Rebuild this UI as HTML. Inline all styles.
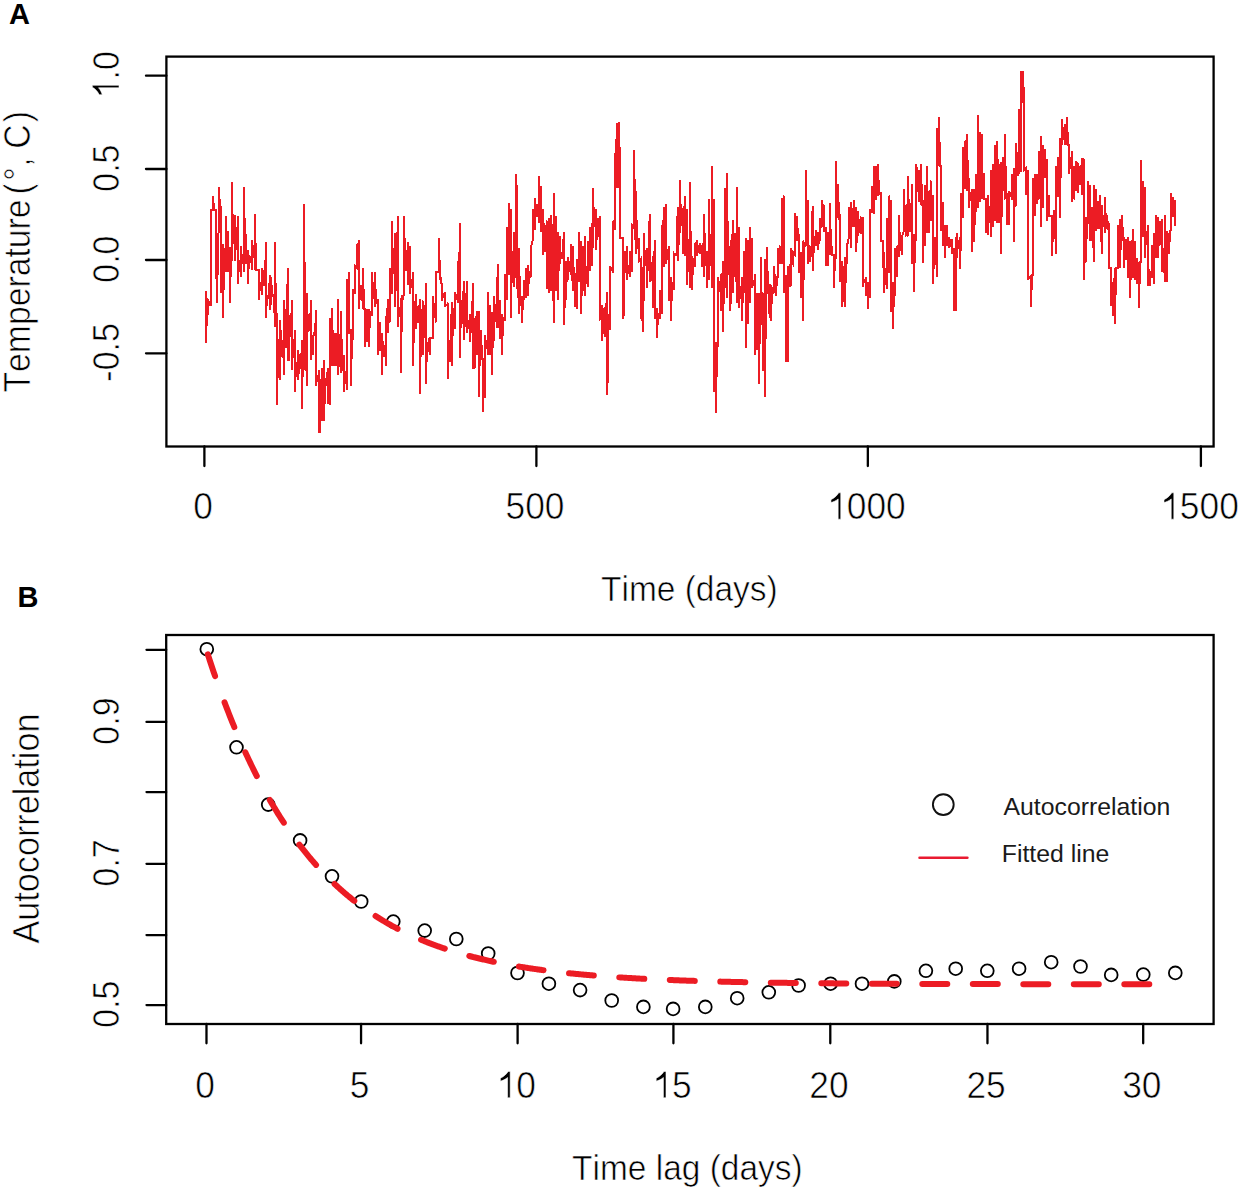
<!DOCTYPE html><html><head><meta charset="utf-8"><style>html,body{margin:0;padding:0;background:#fff;}svg{display:block;} text{font-kerning:none;}</style></head><body>
<svg width="1238" height="1187" viewBox="0 0 1238 1187" style="font-family:'Liberation Sans', sans-serif">
<rect width="1238" height="1187" fill="#fff"/>
<text x="9" y="24" font-size="29" font-weight="bold" fill="#000">A</text>
<text x="17.5" y="607" font-size="29" font-weight="bold" fill="#000">B</text>
<g stroke="#000" stroke-width="2.3" fill="none" stroke-linecap="round">
<rect x="166.4" y="56.6" width="1047.2" height="389.9"/>
<line x1="146" y1="75.7" x2="166.4" y2="75.7"/>
<line x1="146" y1="169.0" x2="166.4" y2="169.0"/>
<line x1="146" y1="260.0" x2="166.4" y2="260.0"/>
<line x1="146" y1="353.3" x2="166.4" y2="353.3"/>
<line x1="204.39" y1="446.5" x2="204.39" y2="466.0"/>
<line x1="536.39" y1="446.5" x2="536.39" y2="466.0"/>
<line x1="867.84" y1="446.5" x2="867.84" y2="466.0"/>
<line x1="1200.9" y1="446.5" x2="1200.9" y2="466.0"/>
</g>
<g fill="#000" stroke="#fff" stroke-width="0.6">
<text transform="translate(202.99 519.20) scale(1.01 1.05)" font-size="35" text-anchor="middle">0</text>
<text transform="translate(534.99 519.20) scale(1.01 1.05)" font-size="35" text-anchor="middle">500</text>
<g transform="translate(866.44 519.20) scale(1.01 1.05)"><text font-size="35" text-anchor="middle"> 000</text><path transform="translate(-38.931 0) scale(0.017090 -0.017090)" d="M790,0 L640,0 L640,1130 Q560,1060 430,1000 Q320,950 222,925 L222,1090 Q380,1160 500,1270 Q620,1380 670,1472 L790,1472 Z" vector-effect="non-scaling-stroke"/></g>
<g transform="translate(1199.50 519.20) scale(1.01 1.05)"><text font-size="35" text-anchor="middle"> 500</text><path transform="translate(-38.931 0) scale(0.017090 -0.017090)" d="M790,0 L640,0 L640,1130 Q560,1060 430,1000 Q320,950 222,925 L222,1090 Q380,1160 500,1270 Q620,1380 670,1472 L790,1472 Z" vector-effect="non-scaling-stroke"/></g>
<g transform="translate(119.00 74.80) rotate(-90) scale(0.97 1.06)"><text font-size="35" text-anchor="middle"> .0</text><path transform="translate(-24.327 0) scale(0.017090 -0.017090)" d="M790,0 L640,0 L640,1130 Q560,1060 430,1000 Q320,950 222,925 L222,1090 Q380,1160 500,1270 Q620,1380 670,1472 L790,1472 Z" vector-effect="non-scaling-stroke"/></g>
<text transform="translate(119.00 168.10) rotate(-90) scale(0.97 1.06)" font-size="35" text-anchor="middle">0.5</text>
<text transform="translate(119.00 259.10) rotate(-90) scale(0.97 1.06)" font-size="35" text-anchor="middle">0.0</text>
<text transform="translate(119.00 352.40) rotate(-90) scale(0.97 1.06)" font-size="35" text-anchor="middle">-0.5</text>
<text transform="translate(689.35 600.80) scale(0.985 1.04)" font-size="34" text-anchor="middle">Time (days)</text>
<text transform="translate(29.90 392.60) rotate(-90) scale(0.993 1.07)" font-size="34" text-anchor="start">Temperature<tspan dx="5">(</tspan><tspan dx="2.4">°</tspan><tspan dx="0.55">,</tspan><tspan dx="-0.65"> C</tspan><tspan dx="2.1">)</tspan></text>
</g>
<path d="M206,290.80 L206,343.10 L207,310.17 L208,315.10 L208,300.40 L209,301.81 L209,304.42 L210,302.72 L211,306.30 L211,210.40 L212,210.40 L213,210.40 L213,195.60 L214,210.40 L214,210.40 L215,210.40 L215,210.40 L216,210.40 L216,278.20 L217,278.00 L217,303.30 L218,248.38 L219,217.80 L219,186.80 L220,210.05 L221,206.00 L221,293.00 L222,268.73 L222,265.97 L223,244.30 L223,318.00 L224,263.94 L225,247.72 L226,272.30 L226,216.30 L227,248.16 L228,231.00 L228,272.30 L229,260.89 L229,270.39 L230,247.30 L230,303.30 L231,252.90 L232,260.50 L232,182.40 L233,243.56 L234,232.95 L234,222.59 L235,214.80 L235,260.50 L236,239.36 L236,227.55 L237,237.76 L238,216.30 L238,284.10 L239,260.69 L240,261.52 L241,276.80 L241,245.80 L242,262.20 L242,263.77 L243,254.71 L244,272.30 L244,186.80 L245,245.79 L246,234.00 L246,263.50 L247,254.00 L247,259.28 L248,250.20 L248,284.10 L249,255.15 L250,260.31 L250,261.18 L251,255.71 L252,270.00 L252,240.00 L253,252.20 L253,256.41 L254,245.11 L255,270.00 L255,214.00 L256,270.00 L256,270.00 L257,270.00 L258,270.00 L258,270.00 L259,270.00 L259,300.00 L260,281.95 L261,286.38 L262,295.00 L262,268.00 L263,272.69 L264,286.27 L265,278.04 L266,242.00 L266,318.00 L267,295.62 L268,298.63 L269,291.84 L270,275.00 L270,310.00 L271,299.89 L271,276.74 L272,292.73 L273,294.83 L274,298.54 L275,327.00 L275,242.00 L276,321.87 L277,313.00 L277,404.50 L278,354.60 L278,339.49 L279,371.04 L280,380.00 L280,320.00 L281,339.93 L281,349.09 L282,356.87 L283,347.65 L283,339.64 L284,375.00 L284,300.00 L285,317.59 L286,348.29 L287,300.41 L288,268.00 L288,360.00 L289,360.00 L290,314.99 L290,337.07 L291,323.93 L291,325.82 L292,300.00 L292,370.00 L293,346.76 L294,348.59 L295,330.00 L295,392.00 L296,363.08 L297,365.04 L298,380.00 L298,350.00 L299,358.44 L299,373.74 L300,364.68 L300,368.07 L301,363.63 L301,367.55 L302,340.00 L302,409.00 L303,348.04 L303,360.00 L304,370.00 L304,204.00 L305,315.24 L305,317.63 L306,356.56 L307,386.00 L307,293.00 L308,331.92 L309,329.98 L310,327.16 L311,300.00 L311,360.00 L312,337.32 L312,342.00 L313,354.72 L313,337.09 L314,333.74 L315,336.09 L316,310.00 L316,386.00 L317,378.56 L318,380.65 L319,370.00 L319,432.00 L320,432.05 L320,379.45 L321,390.50 L321,405.59 L322,421.10 L322,368.49 L323,399.98 L323,396.49 L324,421.10 L324,359.73 L325,403.56 L325,392.20 L326,380.56 L327,375.12 L328,368.49 L328,403.56 L329,382.81 L330,404.66 L330,318.08 L331,351.47 L332,366.30 L332,308.22 L333,350.14 L334,366.30 L334,333.42 L335,357.16 L335,350.97 L336,366.30 L336,333.42 L337,342.86 L338,375.07 L338,299.45 L339,366.99 L340,346.77 L341,372.88 L341,311.51 L342,364.03 L343,370.66 L343,360.71 L344,355.34 L344,391.51 L345,376.39 L346,371.20 L347,390.41 L347,278.63 L348,304.56 L348,293.20 L349,272.05 L349,333.42 L350,331.05 L350,330.94 L351,329.04 L351,386.03 L352,333.88 L353,340.00 L353,289.59 L354,291.50 L355,293.97 L355,265.48 L356,266.28 L356,266.34 L357,267.67 L357,243.56 L358,258.12 L358,250.11 L359,240.27 L359,309.32 L360,291.49 L361,285.16 L362,292.00 L363,309.32 L363,267.67 L364,309.32 L364,309.32 L365,309.32 L365,346.58 L366,318.35 L366,326.38 L367,342.19 L367,309.32 L368,327.09 L368,315.20 L369,309.32 L369,346.58 L370,311.81 L371,313.42 L372,315.89 L372,272.05 L373,291.87 L374,289.17 L374,291.31 L375,307.12 L375,272.05 L376,304.33 L376,302.57 L377,303.41 L378,299.45 L378,355.34 L379,335.41 L379,331.80 L380,322.47 L380,350.96 L381,336.02 L381,338.58 L382,333.42 L382,375.07 L383,340.91 L384,349.50 L384,355.77 L385,346.27 L386,366.30 L386,315.89 L387,325.83 L387,316.04 L388,299.45 L388,333.42 L389,307.74 L389,307.60 L390,322.47 L390,267.67 L391,280.61 L391,271.46 L392,293.97 L392,220.55 L393,273.79 L393,257.77 L394,269.25 L395,232.60 L395,307.12 L396,276.40 L397,259.80 L397,249.11 L398,216.16 L398,326.85 L399,307.61 L400,313.42 L400,317.06 L401,298.36 L401,372.88 L402,296.39 L402,295.48 L403,297.73 L404,293.97 L404,216.16 L405,258.77 L406,271.18 L407,257.84 L408,242.47 L408,285.21 L409,263.18 L410,245.75 L410,293.97 L411,283.01 L412,287.19 L413,272.05 L413,366.30 L414,321.58 L415,305.84 L415,308.94 L416,293.97 L416,329.04 L417,305.95 L417,314.04 L418,322.48 L419,310.45 L420,299.45 L420,393.70 L421,323.73 L421,325.50 L422,317.87 L423,300.55 L423,355.34 L424,322.24 L424,338.24 L425,328.12 L426,283.01 L426,383.84 L427,341.89 L428,346.47 L428,348.28 L429,338.58 L429,347.49 L430,355.34 L430,337.81 L431,337.81 L432,337.81 L432,337.81 L433,337.81 L433,296.16 L434,309.71 L435,306.40 L435,313.97 L436,322.47 L436,272.05 L437,272.05 L438,272.05 L439,272.05 L439,238.08 L440,279.64 L441,277.10 L442,289.59 L442,300.55 L443,295.30 L444,297.93 L444,294.87 L445,291.78 L445,307.12 L446,304.97 L447,305.55 L448,302.74 L448,379.45 L449,340.34 L450,361.52 L451,327.70 L452,301.64 L452,366.30 L453,307.92 L454,318.18 L455,329.04 L455,291.78 L456,295.79 L457,297.52 L458,302.74 L458,261.10 L459,281.91 L460,222.74 L460,357.53 L461,299.72 L461,308.22 L462,323.89 L463,301.51 L464,280.82 L464,340.00 L465,315.23 L466,304.41 L466,305.08 L467,280.82 L467,333.42 L468,324.31 L469,320.15 L469,326.49 L470,313.70 L470,342.19 L471,324.80 L471,325.24 L472,318.83 L473,283.01 L473,368.49 L474,352.88 L474,347.23 L475,368.48 L475,318.41 L476,329.47 L476,320.03 L477,311.51 L477,355.34 L478,322.94 L479,311.51 L479,396.99 L480,337.61 L480,350.81 L481,359.38 L481,329.79 L482,359.38 L483,359.38 L483,411.72 L484,379.66 L484,377.64 L485,398.07 L485,335.48 L486,344.37 L487,346.35 L487,343.80 L488,354.82 L488,292.24 L489,323.67 L490,304.76 L490,354.82 L491,336.86 L492,311.58 L492,375.31 L493,323.39 L494,341.17 L494,295.65 L495,312.71 L495,310.35 L496,315.32 L497,327.51 L497,291.10 L498,263.79 L498,327.51 L499,307.83 L499,307.70 L500,300.20 L500,338.89 L501,322.99 L502,313.86 L502,354.82 L503,319.15 L504,317.76 L504,316.69 L505,320.69 L505,274.03 L506,291.75 L507,300.20 L507,227.38 L508,260.00 L509,275.17 L509,203.48 L510,242.67 L511,209.17 L511,318.41 L512,250.69 L512,257.23 L513,279.30 L513,259.81 L514,286.55 L514,231.93 L515,270.78 L516,277.45 L516,173.90 L517,195.52 L517,288.83 L518,281.52 L519,313.86 L519,247.86 L520,303.24 L521,304.84 L521,303.91 L522,295.65 L522,322.96 L523,298.06 L524,300.20 L524,279.72 L525,285.60 L526,297.93 L526,268.34 L527,273.68 L528,264.93 L528,295.65 L529,272.75 L530,271.90 L530,272.66 L531,277.45 L531,247.86 L532,242.87 L533,238.76 L533,209.17 L534,223.52 L534,221.03 L535,229.65 L535,197.79 L536,209.85 L537,216.65 L537,209.64 L538,204.39 L539,222.83 L539,176.17 L540,212.71 L540,206.60 L541,186.41 L541,231.93 L542,218.82 L543,209.17 L543,254.69 L544,223.04 L544,239.21 L545,228.26 L545,252.47 L546,230.26 L546,229.42 L547,220.55 L547,288.83 L548,242.56 L549,218.27 L549,293.38 L550,263.25 L551,291.10 L551,214.86 L552,233.04 L553,278.49 L554,322.96 L554,193.24 L555,241.06 L556,216.00 L556,291.10 L557,271.09 L557,264.49 L558,231.93 L558,300.20 L559,244.31 L560,236.48 L560,263.79 L561,253.24 L562,258.55 L563,245.94 L564,231.93 L564,325.24 L565,291.67 L565,269.40 L566,261.52 L566,300.20 L567,265.90 L568,256.96 L568,279.72 L569,263.96 L569,268.28 L570,261.53 L571,275.17 L571,244.45 L572,271.47 L573,291.10 L573,245.58 L574,285.61 L575,272.89 L575,307.03 L576,296.68 L577,309.31 L577,259.24 L578,274.04 L578,270.22 L579,282.00 L579,231.93 L580,265.33 L580,252.59 L581,241.03 L581,313.86 L582,279.43 L583,291.10 L583,245.58 L584,263.25 L584,261.35 L585,236.48 L585,295.65 L586,272.54 L586,275.73 L587,266.00 L588,286.55 L588,241.03 L589,257.24 L589,251.50 L590,270.62 L590,227.38 L591,254.81 L592,266.07 L592,222.83 L593,247.86 L593,187.55 L594,224.41 L595,227.23 L596,209.17 L596,250.14 L597,231.23 L597,233.89 L598,236.48 L598,218.27 L599,220.53 L600,216.00 L600,318.41 L601,316.72 L602,304.76 L602,341.17 L603,327.03 L604,310.16 L605,307.03 L605,336.62 L606,314.45 L607,292.24 L607,394.65 L608,373.03 L608,313.86 L609,322.81 L610,329.79 L610,266.07 L611,269.02 L612,269.10 L613,272.89 L613,220.55 L614,226.93 L615,230.07 L615,154.37 L616,154.37 L617,123.05 L617,188.31 L618,156.91 L619,188.31 L619,121.75 L620,170.04 L620,237.90 L621,237.90 L621,237.90 L622,237.90 L623,237.90 L623,318.82 L624,313.60 L624,250.96 L625,262.17 L625,272.55 L626,256.23 L627,245.73 L627,279.67 L628,267.69 L629,266.02 L630,277.06 L630,250.96 L631,269.17 L632,271.84 L632,224.85 L633,226.00 L634,227.46 L634,150.46 L635,205.44 L635,225.11 L636,253.57 L636,190.92 L637,245.77 L638,246.14 L638,248.52 L639,237.90 L639,261.40 L640,260.47 L640,260.47 L641,258.79 L641,318.82 L642,310.64 L643,331.87 L643,266.62 L644,300.55 L644,232.68 L645,265.53 L646,261.30 L647,248.35 L647,287.50 L648,255.16 L649,264.01 L649,227.46 L650,214.41 L650,282.28 L651,278.85 L652,267.51 L653,256.18 L653,308.38 L654,262.61 L655,240.51 L655,318.82 L656,315.59 L656,311.70 L657,308.38 L657,338.40 L658,312.87 L658,314.98 L659,314.44 L660,318.82 L660,290.11 L661,302.00 L662,313.60 L662,224.85 L663,239.65 L663,233.74 L664,206.58 L664,266.62 L665,216.68 L665,228.97 L666,203.97 L666,264.01 L667,255.51 L667,252.68 L668,252.94 L669,245.73 L669,300.55 L670,286.15 L671,277.06 L671,321.43 L672,282.34 L672,286.24 L673,282.96 L674,290.11 L674,253.57 L675,254.97 L676,253.78 L677,256.18 L677,224.85 L678,206.58 L678,261.40 L679,229.12 L680,232.68 L680,180.48 L681,226.40 L682,210.80 L683,209.19 L683,253.57 L684,227.67 L685,256.18 L685,196.14 L686,240.06 L687,209.19 L687,284.89 L688,239.09 L688,260.18 L689,256.78 L690,287.50 L690,181.78 L691,275.18 L691,264.94 L692,256.18 L692,290.11 L693,261.93 L694,259.68 L695,266.62 L695,243.12 L696,251.84 L696,243.12 L697,240.51 L697,256.18 L698,250.50 L699,250.39 L699,247.70 L700,243.12 L700,253.57 L701,248.51 L701,247.50 L702,245.73 L702,266.62 L703,253.87 L703,253.88 L704,277.06 L704,214.41 L705,250.96 L705,253.57 L706,265.51 L706,260.99 L707,250.96 L707,287.50 L708,252.06 L708,276.92 L709,279.67 L709,198.75 L710,266.45 L711,243.64 L712,287.50 L712,166.12 L713,245.47 L714,198.75 L714,391.91 L715,369.70 L715,367.14 L716,342.32 L716,412.79 L717,344.12 L718,344.93 L718,277.06 L719,291.39 L720,288.65 L720,287.95 L721,274.45 L721,310.99 L722,285.54 L723,261.40 L723,331.87 L724,279.27 L725,287.50 L725,188.31 L726,237.40 L727,297.94 L727,172.65 L728,265.80 L728,259.82 L729,274.64 L729,260.28 L730,245.73 L730,310.99 L731,297.94 L731,240.51 L732,248.43 L733,219.63 L733,292.72 L734,249.28 L734,250.17 L735,232.68 L735,277.06 L736,263.32 L736,259.89 L737,303.16 L737,187.00 L738,267.29 L739,227.46 L739,308.38 L740,290.35 L741,295.52 L742,277.06 L742,321.43 L743,285.88 L743,282.97 L744,292.72 L744,250.96 L745,273.43 L746,237.90 L746,347.54 L747,284.53 L748,324.04 L748,240.51 L749,264.82 L750,227.46 L750,303.16 L751,264.23 L751,254.39 L752,237.90 L752,287.50 L753,282.96 L754,285.30 L755,274.45 L755,355.37 L756,300.75 L756,331.99 L757,350.15 L757,292.72 L758,312.68 L759,292.72 L759,384.08 L760,307.93 L761,324.04 L761,257.48 L762,324.04 L763,324.04 L763,371.03 L764,345.02 L764,327.32 L765,258.79 L765,397.13 L766,285.83 L767,292.72 L767,247.04 L768,292.72 L769,292.72 L769,308.38 L770,318.41 L770,284.27 L771,286.55 L771,320.69 L772,288.70 L772,287.87 L773,289.83 L774,293.38 L774,266.07 L775,281.53 L776,277.45 L776,295.65 L777,277.45 L778,277.45 L778,247.86 L779,261.49 L779,253.61 L780,245.58 L780,263.79 L781,248.19 L782,263.79 L782,197.79 L783,229.00 L784,195.52 L784,293.38 L785,283.90 L786,275.17 L786,361.65 L787,287.68 L787,333.70 L788,361.65 L788,266.07 L789,276.71 L789,271.99 L790,263.79 L790,286.55 L791,284.27 L791,247.86 L792,262.03 L793,263.79 L793,252.41 L794,253.53 L795,254.69 L795,212.59 L796,230.06 L797,241.03 L797,216.00 L798,238.57 L798,237.91 L799,236.48 L799,272.89 L800,259.92 L801,252.41 L801,297.93 L802,274.10 L803,241.03 L803,320.69 L804,242.73 L805,244.24 L805,243.06 L806,245.58 L806,170.48 L807,230.20 L807,224.82 L808,200.07 L808,263.79 L809,254.08 L809,249.43 L810,245.58 L810,261.52 L811,252.46 L812,254.69 L812,216.00 L813,205.76 L813,270.62 L814,235.95 L815,238.37 L816,245.58 L816,229.65 L817,238.01 L817,238.99 L818,231.93 L818,250.14 L819,238.83 L819,236.28 L820,241.03 L820,218.27 L821,223.91 L822,227.38 L822,200.07 L823,221.24 L823,209.11 L824,204.62 L824,231.93 L825,227.68 L825,229.21 L826,227.38 L826,266.07 L827,255.00 L827,257.56 L828,266.07 L828,231.93 L829,244.61 L829,243.60 L830,254.69 L830,203.48 L831,252.97 L831,249.42 L832,245.58 L832,254.69 L833,254.69 L834,254.69 L834,287.69 L835,256.93 L836,259.24 L836,161.38 L837,205.08 L838,218.27 L838,184.14 L839,217.37 L840,216.00 L840,282.00 L841,277.67 L842,261.52 L842,307.03 L843,298.02 L843,296.71 L844,275.13 L845,256.96 L845,307.03 L846,260.69 L847,263.79 L847,245.58 L848,241.48 L849,236.48 L849,206.90 L850,224.10 L851,202.34 L851,247.86 L852,208.08 L852,213.79 L853,214.12 L853,213.79 L854,227.38 L854,200.07 L855,222.33 L855,220.55 L856,206.90 L856,252.41 L857,235.11 L857,225.70 L858,236.48 L858,211.45 L859,225.12 L860,232.95 L860,226.85 L861,234.21 L861,218.27 L862,219.34 L863,217.14 L863,286.55 L864,280.05 L865,283.09 L865,280.40 L866,277.45 L866,295.65 L867,291.85 L867,283.90 L868,282.00 L868,309.31 L869,284.91 L870,297.93 L870,210.31 L871,211.08 L871,210.57 L872,211.45 L872,186.41 L873,197.30 L874,213.72 L874,165.93 L875,182.05 L876,165.93 L876,200.07 L877,187.87 L878,195.52 L878,163.65 L879,193.74 L880,193.75 L881,193.24 L881,241.03 L882,241.03 L883,241.03 L883,268.34 L884,252.41 L884,293.38 L885,278.03 L886,267.62 L887,288.83 L887,218.27 L888,244.02 L888,260.20 L889,272.89 L889,195.52 L890,226.00 L891,200.07 L891,311.58 L892,297.13 L893,282.00 L893,328.65 L894,286.52 L895,295.65 L895,247.86 L896,253.75 L896,263.18 L897,277.45 L897,245.58 L898,252.93 L899,256.96 L899,214.86 L900,248.44 L900,245.44 L901,245.86 L902,254.69 L902,236.48 L903,233.75 L903,234.03 L904,229.65 L904,188.69 L905,221.51 L906,236.48 L906,204.62 L907,207.14 L907,215.57 L908,236.48 L908,176.17 L909,219.68 L910,211.45 L910,231.93 L911,224.87 L911,221.80 L912,184.14 L912,263.79 L913,243.11 L913,254.39 L914,234.21 L914,292.24 L915,236.53 L916,241.03 L916,163.65 L917,170.48 L918,191.76 L918,178.85 L919,170.48 L919,202.34 L920,180.91 L920,184.79 L921,204.62 L921,163.65 L922,202.96 L922,203.77 L923,202.34 L923,262.65 L924,215.39 L925,245.79 L925,184.74 L926,218.19 L926,215.24 L927,233.16 L927,165.79 L928,231.14 L928,201.77 L929,191.05 L929,233.16 L930,199.83 L931,180.53 L931,220.53 L932,209.26 L933,195.26 L933,283.68 L934,256.28 L935,264.74 L935,237.37 L936,246.48 L937,277.37 L937,127.89 L938,163.48 L939,165.79 L939,117.37 L940,165.79 L941,165.79 L941,231.05 L942,215.06 L942,214.20 L943,201.58 L943,245.79 L944,225.08 L944,234.94 L945,224.74 L945,258.42 L946,229.88 L947,224.74 L947,245.79 L948,242.04 L949,237.37 L949,247.89 L950,245.10 L950,243.64 L951,239.47 L951,241.81 L952,239.47 L952,254.21 L953,249.49 L953,250.68 L954,247.89 L954,311.05 L955,268.15 L955,288.42 L956,311.05 L956,241.58 L957,233.16 L957,258.42 L958,239.78 L958,242.24 L959,247.76 L960,237.37 L960,268.95 L961,233.16 L961,193.16 L962,207.38 L963,218.42 L963,146.84 L964,188.95 L964,166.97 L965,188.95 L965,140.53 L966,169.01 L967,191.05 L967,134.21 L968,183.11 L969,178.42 L969,207.89 L970,191.88 L971,200.89 L972,188.95 L972,252.11 L973,209.18 L974,188.95 L974,241.58 L975,209.75 L976,212.11 L976,174.21 L977,194.19 L978,207.89 L978,115.26 L979,186.41 L979,147.90 L980,132.11 L980,201.58 L981,161.03 L982,134.21 L982,199.47 L983,174.59 L984,174.21 L984,199.47 L985,199.47 L985,199.47 L986,199.47 L986,233.16 L987,220.27 L987,208.13 L988,195.26 L988,235.26 L989,208.27 L990,207.34 L990,208.41 L991,237.37 L991,170.00 L992,207.70 L993,226.84 L993,163.68 L994,185.86 L995,220.53 L995,144.74 L996,185.61 L997,222.63 L997,140.53 L998,175.42 L999,163.68 L999,222.63 L1000,174.66 L1001,161.58 L1001,254.21 L1002,184.34 L1002,187.39 L1003,191.05 L1003,157.37 L1004,180.15 L1005,199.47 L1005,134.21 L1006,195.71 L1007,193.16 L1007,224.74 L1008,208.96 L1009,224.74 L1009,191.05 L1010,192.89 L1010,195.52 L1011,193.93 L1012,199.47 L1012,174.21 L1013,194.83 L1014,167.89 L1014,241.58 L1015,176.05 L1016,205.79 L1016,142.63 L1017,161.00 L1017,163.18 L1018,155.26 L1018,176.32 L1019,172.11 L1019,108.95 L1020,157.82 L1021,172.11 L1021,70.63 L1022,98.12 L1023,102.63 L1023,70.63 L1024,102.63 L1024,170.00 L1025,168.80 L1026,167.89 L1026,195.26 L1027,181.42 L1028,170.00 L1028,279.47 L1029,277.26 L1029,277.75 L1030,277.16 L1031,275.26 L1031,306.84 L1032,275.26 L1032,275.26 L1033,275.26 L1033,178.42 L1034,194.61 L1034,197.65 L1035,216.32 L1035,174.21 L1036,187.64 L1037,174.21 L1037,203.68 L1038,182.26 L1039,199.47 L1039,151.05 L1040,166.96 L1041,136.32 L1041,226.84 L1042,180.91 L1043,207.89 L1043,144.74 L1044,168.96 L1045,178.42 L1045,148.95 L1046,173.87 L1047,159.47 L1047,220.53 L1048,202.46 L1049,195.26 L1049,216.32 L1050,216.32 L1050,216.32 L1051,216.32 L1052,216.32 L1052,256.32 L1053,229.18 L1054,239.47 L1054,210.00 L1055,220.62 L1056,254.21 L1056,165.79 L1057,182.45 L1057,184.71 L1058,197.37 L1058,157.37 L1059,177.47 L1060,138.42 L1060,218.42 L1061,141.69 L1062,144.74 L1062,119.47 L1063,134.60 L1063,137.83 L1064,139.95 L1064,133.41 L1065,123.68 L1065,144.74 L1066,136.03 L1067,144.74 L1067,117.37 L1068,144.74 L1068,144.74 L1069,144.74 L1069,174.21 L1070,164.69 L1071,163.54 L1071,163.81 L1072,151.05 L1072,201.58 L1073,178.02 L1074,165.79 L1074,199.47 L1075,180.26 L1076,191.05 L1076,160.61 L1077,167.73 L1078,162.63 L1078,192.93 L1079,169.33 L1080,166.67 L1080,184.85 L1081,172.67 L1082,157.58 L1082,194.95 L1083,162.35 L1084,158.59 L1084,279.80 L1085,246.37 L1085,227.05 L1086,217.17 L1086,261.62 L1087,219.45 L1088,221.21 L1088,180.81 L1089,199.58 L1090,184.85 L1090,241.41 L1091,230.35 L1092,241.41 L1092,207.07 L1093,212.82 L1093,234.61 L1094,261.62 L1094,184.85 L1095,206.08 L1096,188.89 L1096,231.31 L1097,221.46 L1098,229.29 L1098,201.01 L1099,214.97 L1099,213.69 L1100,229.29 L1100,194.95 L1101,229.29 L1102,253.54 L1102,205.05 L1103,224.38 L1104,219.27 L1105,233.33 L1105,196.97 L1106,227.86 L1106,222.69 L1107,229.29 L1107,215.15 L1108,226.87 L1109,225.25 L1109,267.68 L1110,267.68 L1110,267.68 L1111,267.68 L1111,306.06 L1112,301.41 L1112,297.34 L1113,281.82 L1113,316.16 L1114,287.84 L1115,267.68 L1115,324.24 L1116,267.68 L1117,267.68 L1118,267.68 L1118,225.25 L1119,234.45 L1120,219.19 L1120,267.68 L1121,232.57 L1122,241.41 L1122,215.15 L1123,239.03 L1123,239.65 L1124,237.37 L1124,267.68 L1125,246.72 L1126,239.39 L1126,259.60 L1127,251.93 L1128,237.37 L1128,277.78 L1129,250.91 L1130,241.41 L1130,297.98 L1131,264.31 L1132,251.29 L1133,229.29 L1133,277.78 L1134,257.71 L1135,241.41 L1135,279.80 L1136,270.68 L1136,275.23 L1137,283.84 L1137,257.58 L1138,270.30 L1138,270.33 L1139,261.62 L1139,308.08 L1140,261.62 L1141,261.62 L1141,159.60 L1142,228.06 L1143,237.37 L1143,180.81 L1144,215.66 L1145,186.87 L1145,257.58 L1146,230.71 L1147,244.98 L1148,225.25 L1148,285.86 L1149,283.44 L1150,285.86 L1150,271.72 L1151,273.33 L1151,275.54 L1152,277.78 L1152,245.45 L1153,260.58 L1153,261.18 L1154,283.84 L1154,233.33 L1155,244.78 L1155,244.62 L1156,257.58 L1156,215.15 L1157,226.53 L1157,242.31 L1158,257.58 L1158,217.17 L1159,235.98 L1159,239.32 L1160,245.45 L1160,221.21 L1161,234.00 L1162,219.19 L1162,271.72 L1163,248.43 L1163,267.27 L1164,264.80 L1165,281.82 L1165,215.15 L1166,264.18 L1167,281.82 L1167,231.31 L1168,240.03 L1169,233.33 L1169,253.54 L1170,231.71 L1171,229.29 L1171,192.93 L1172,206.37 L1173,196.97 L1173,217.17 L1174,206.51 L1174,212.40 L1175,200.00 L1175,226.26" fill="none" stroke="#ec1c24" stroke-width="2.0" stroke-linejoin="miter" shape-rendering="crispEdges"/>
<g stroke="#000" stroke-width="2.3" fill="none" stroke-linecap="round">
<rect x="166.2" y="635" width="1047.4" height="389"/>
<line x1="146.5" y1="649.85" x2="166.2" y2="649.85"/>
<line x1="146.5" y1="721.96" x2="166.2" y2="721.96"/>
<line x1="146.5" y1="792.05" x2="166.2" y2="792.05"/>
<line x1="146.5" y1="863.8" x2="166.2" y2="863.8"/>
<line x1="146.5" y1="935.04" x2="166.2" y2="935.04"/>
<line x1="146.5" y1="1005.1" x2="166.2" y2="1005.1"/>
<line x1="206.48" y1="1024" x2="206.48" y2="1043.3"/>
<line x1="361.06" y1="1024" x2="361.06" y2="1043.3"/>
<line x1="517.61" y1="1024" x2="517.61" y2="1043.3"/>
<line x1="673.42" y1="1024" x2="673.42" y2="1043.3"/>
<line x1="830.29" y1="1024" x2="830.29" y2="1043.3"/>
<line x1="987.46" y1="1024" x2="987.46" y2="1043.3"/>
<line x1="1143.19" y1="1024" x2="1143.19" y2="1043.3"/>
</g>
<g fill="#000" stroke="#fff" stroke-width="0.6">
<text transform="translate(205.08 1097.80) scale(1.01 1.05)" font-size="35" text-anchor="middle">0</text>
<text transform="translate(359.66 1097.80) scale(1.01 1.05)" font-size="35" text-anchor="middle">5</text>
<g transform="translate(516.21 1097.80) scale(1.01 1.05)"><text font-size="35" text-anchor="middle"> 0</text><path transform="translate(-19.465 0) scale(0.017090 -0.017090)" d="M790,0 L640,0 L640,1130 Q560,1060 430,1000 Q320,950 222,925 L222,1090 Q380,1160 500,1270 Q620,1380 670,1472 L790,1472 Z" vector-effect="non-scaling-stroke"/></g>
<g transform="translate(672.02 1097.80) scale(1.01 1.05)"><text font-size="35" text-anchor="middle"> 5</text><path transform="translate(-19.465 0) scale(0.017090 -0.017090)" d="M790,0 L640,0 L640,1130 Q560,1060 430,1000 Q320,950 222,925 L222,1090 Q380,1160 500,1270 Q620,1380 670,1472 L790,1472 Z" vector-effect="non-scaling-stroke"/></g>
<text transform="translate(828.89 1097.80) scale(1.01 1.05)" font-size="35" text-anchor="middle">20</text>
<text transform="translate(986.06 1097.80) scale(1.01 1.05)" font-size="35" text-anchor="middle">25</text>
<text transform="translate(1141.79 1097.80) scale(1.01 1.05)" font-size="35" text-anchor="middle">30</text>
<text transform="translate(118.90 721.06) rotate(-90) scale(0.97 1.06)" font-size="35" text-anchor="middle">0.9</text>
<text transform="translate(118.90 862.90) rotate(-90) scale(0.97 1.06)" font-size="35" text-anchor="middle">0.7</text>
<text transform="translate(118.90 1004.20) rotate(-90) scale(0.97 1.06)" font-size="35" text-anchor="middle">0.5</text>
<text transform="translate(687.35 1179.70) scale(0.984 1.03)" font-size="34" text-anchor="middle">Time lag (days)</text>
<text transform="translate(39.30 828.55) rotate(-90) scale(1.007 1.09)" font-size="34" text-anchor="middle">Autocorrelation</text>
</g>
<g stroke="#000" stroke-width="1.8" fill="none">
<circle cx="206.80" cy="649.2" r="6.4"/>
<circle cx="236.50" cy="747.3" r="6.4"/>
<circle cx="268.20" cy="804.6" r="6.4"/>
<circle cx="300.10" cy="840.4" r="6.4"/>
<circle cx="332.00" cy="876.3" r="6.4"/>
<circle cx="361.20" cy="901.5" r="6.4"/>
<circle cx="393.30" cy="921.6" r="6.4"/>
<circle cx="424.70" cy="930.6" r="6.4"/>
<circle cx="456.30" cy="939" r="6.4"/>
<circle cx="488.20" cy="953.5" r="6.4"/>
<circle cx="517.50" cy="973" r="6.4"/>
<circle cx="548.90" cy="983.7" r="6.4"/>
<circle cx="580.10" cy="990.1" r="6.4"/>
<circle cx="611.70" cy="1000.5" r="6.4"/>
<circle cx="643.40" cy="1006.9" r="6.4"/>
<circle cx="673.10" cy="1008.9" r="6.4"/>
<circle cx="705.30" cy="1006.9" r="6.4"/>
<circle cx="737.20" cy="998.2" r="6.4"/>
<circle cx="768.80" cy="992.3" r="6.4"/>
<circle cx="798.60" cy="985.5" r="6.4"/>
<circle cx="830.60" cy="983.7" r="6.4"/>
<circle cx="862.00" cy="983.7" r="6.4"/>
<circle cx="894.30" cy="981.4" r="6.4"/>
<circle cx="925.90" cy="970.8" r="6.4"/>
<circle cx="955.70" cy="968.7" r="6.4"/>
<circle cx="987.30" cy="970.8" r="6.4"/>
<circle cx="1019.10" cy="968.7" r="6.4"/>
<circle cx="1051.20" cy="962.2" r="6.4"/>
<circle cx="1080.50" cy="966.5" r="6.4"/>
<circle cx="1111.20" cy="974.9" r="6.4"/>
<circle cx="1143.30" cy="974.6" r="6.4"/>
<circle cx="1175.30" cy="972.9" r="6.4"/>
</g>
<path d="M207.80,654.35 L208.80,657.44 L209.80,660.49 L210.80,663.52 L211.80,666.52 L212.80,669.49 L213.80,672.43 L214.80,675.34 L215.05,676.07 M224.55,702.37 L225.55,705.01 L226.55,707.62 L227.55,710.20 L228.55,712.76 L229.55,715.30 L230.55,717.82 L231.55,720.31 L232.55,722.77 L233.55,725.22 L234.30,727.04 M245.30,752.28 L246.30,754.45 L247.30,756.60 L248.30,758.73 L249.30,760.84 L250.30,762.92 L251.30,764.99 L252.30,767.04 L253.30,769.07 L254.30,771.09 L255.30,773.08 L256.30,775.05 L256.80,776.03 M269.80,799.97 L270.80,801.69 L271.80,803.39 L272.80,805.09 L273.80,806.76 L274.80,808.42 L275.80,810.06 L276.80,811.69 L277.80,813.31 L278.80,814.90 L279.80,816.49 L280.80,818.05 L281.80,819.61 L282.80,821.15 L283.80,822.67 L283.80,822.67 M299.30,844.56 L300.30,845.87 L301.30,847.16 L302.30,848.45 L303.30,849.72 L304.30,850.97 L305.30,852.22 L306.30,853.45 L307.30,854.68 L308.30,855.89 L309.30,857.09 L310.30,858.28 L311.30,859.46 L312.30,860.62 L313.30,861.78 L314.30,862.92 L315.30,864.06 L316.05,864.90 M334.55,883.94 L335.55,884.88 L336.55,885.81 L337.55,886.73 L338.55,887.64 L339.55,888.54 L340.55,889.44 L341.55,890.33 L342.55,891.20 L343.55,892.07 L344.55,892.94 L345.55,893.79 L346.55,894.64 L347.55,895.47 L348.55,896.30 L349.55,897.13 L350.55,897.94 L351.55,898.75 L352.55,899.55 L353.55,900.34 L354.30,900.93 M375.55,916.01 L376.55,916.65 L377.55,917.28 L378.55,917.91 L379.55,918.53 L380.55,919.14 L381.55,919.75 L382.55,920.35 L383.55,920.95 L384.55,921.54 L385.55,922.13 L386.55,922.71 L387.55,923.29 L388.55,923.86 L389.55,924.42 L390.55,924.98 L391.55,925.54 L392.55,926.09 L393.55,926.63 L394.55,927.17 L395.55,927.70 L396.55,928.23 L397.55,928.76 L397.55,928.76 M421.05,939.75 L422.05,940.17 L423.05,940.58 L424.05,940.99 L425.05,941.40 L426.05,941.80 L427.05,942.19 L428.05,942.59 L429.05,942.98 L430.05,943.36 L431.05,943.75 L432.05,944.13 L433.05,944.50 L434.05,944.87 L435.05,945.24 L436.05,945.61 L437.05,945.97 L438.05,946.33 L439.05,946.68 L440.05,947.03 L441.05,947.38 L442.05,947.73 L443.05,948.07 L444.05,948.41 L444.80,948.66 M469.30,955.98 L470.30,956.25 L471.30,956.51 L472.30,956.77 L473.30,957.03 L474.30,957.28 L475.30,957.53 L476.30,957.78 L477.30,958.03 L478.30,958.28 L479.30,958.52 L480.30,958.76 L481.30,959.00 L482.30,959.24 L483.30,959.47 L484.30,959.70 L485.30,959.93 L486.30,960.16 L487.30,960.39 L488.30,960.61 L489.30,960.83 L490.30,961.05 L491.30,961.27 L492.30,961.48 L493.30,961.70 L493.80,961.80 M518.80,966.51 L519.80,966.68 L520.80,966.84 L521.80,967.00 L522.80,967.17 L523.80,967.33 L524.80,967.48 L525.80,967.64 L526.80,967.80 L527.80,967.95 L528.80,968.10 L529.80,968.26 L530.80,968.41 L531.80,968.55 L532.80,968.70 L533.80,968.85 L534.80,968.99 L535.80,969.13 L536.80,969.28 L537.80,969.42 L538.80,969.56 L539.80,969.69 L540.80,969.83 L541.80,969.97 L542.80,970.10 L543.55,970.20 M569.05,973.20 L570.05,973.31 L571.05,973.41 L572.05,973.51 L573.05,973.61 L574.05,973.71 L575.05,973.81 L576.05,973.91 L577.05,974.00 L578.05,974.10 L579.05,974.20 L580.05,974.29 L581.05,974.38 L582.05,974.48 L583.05,974.57 L584.05,974.66 L585.05,974.75 L586.05,974.84 L587.05,974.93 L588.05,975.02 L589.05,975.10 L590.05,975.19 L591.05,975.27 L592.05,975.36 L593.05,975.44 L593.80,975.50 M619.30,977.38 L620.30,977.44 L621.30,977.51 L622.30,977.57 L623.30,977.63 L624.30,977.69 L625.30,977.76 L626.30,977.82 L627.30,977.88 L628.30,977.94 L629.30,978.00 L630.30,978.06 L631.30,978.11 L632.30,978.17 L633.30,978.23 L634.30,978.29 L635.30,978.34 L636.30,978.40 L637.30,978.45 L638.30,978.51 L639.30,978.56 L640.30,978.62 L641.30,978.67 L642.30,978.72 L643.30,978.77 L644.30,978.82 L644.30,978.82 M669.80,979.99 L670.80,980.03 L671.80,980.07 L672.80,980.11 L673.80,980.15 L674.80,980.19 L675.80,980.23 L676.80,980.26 L677.80,980.30 L678.80,980.34 L679.80,980.38 L680.80,980.41 L681.80,980.45 L682.80,980.49 L683.80,980.52 L684.80,980.56 L685.80,980.59 L686.80,980.63 L687.80,980.66 L688.80,980.69 L689.80,980.73 L690.80,980.76 L691.80,980.80 L692.80,980.83 L693.80,980.86 L694.80,980.89 L694.80,980.89 M720.30,981.62 L721.30,981.64 L722.30,981.67 L723.30,981.69 L724.30,981.72 L725.30,981.74 L726.30,981.76 L727.30,981.79 L728.30,981.81 L729.30,981.84 L730.30,981.86 L731.30,981.88 L732.30,981.90 L733.30,981.93 L734.30,981.95 L735.30,981.97 L736.30,981.99 L737.30,982.01 L738.30,982.04 L739.30,982.06 L740.30,982.08 L741.30,982.10 L742.30,982.12 L743.30,982.14 L744.30,982.16 L745.30,982.18 L745.30,982.18 M770.80,982.63 L771.80,982.65 L772.80,982.66 L773.80,982.68 L774.80,982.69 L775.80,982.71 L776.80,982.72 L777.80,982.74 L778.80,982.75 L779.80,982.77 L780.80,982.78 L781.80,982.79 L782.80,982.81 L783.80,982.82 L784.80,982.84 L785.80,982.85 L786.80,982.86 L787.80,982.88 L788.80,982.89 L789.80,982.90 L790.80,982.92 L791.80,982.93 L792.80,982.94 L793.80,982.96 L794.80,982.97 L795.80,982.98 L795.80,982.98 M821.30,983.26 L822.30,983.27 L823.30,983.28 L824.30,983.29 L825.30,983.30 L826.30,983.31 L827.30,983.32 L828.30,983.33 L829.30,983.34 L830.30,983.35 L831.30,983.35 L832.30,983.36 L833.30,983.37 L834.30,983.38 L835.30,983.39 L836.30,983.40 L837.30,983.41 L838.30,983.41 L839.30,983.42 L840.30,983.43 L841.30,983.44 L842.30,983.45 L843.30,983.45 L844.30,983.46 L845.30,983.47 L846.30,983.48 L846.30,983.48 M871.80,983.65 L872.80,983.66 L873.80,983.67 L874.80,983.67 L875.80,983.68 L876.80,983.68 L877.80,983.69 L878.80,983.69 L879.80,983.70 L880.80,983.71 L881.80,983.71 L882.80,983.72 L883.80,983.72 L884.80,983.73 L885.80,983.73 L886.80,983.74 L887.80,983.74 L888.80,983.75 L889.80,983.75 L890.80,983.76 L891.80,983.76 L892.80,983.77 L893.80,983.77 L894.80,983.78 L895.80,983.78 L896.80,983.79 L896.80,983.79 M922.30,983.90 L923.30,983.90 L924.30,983.91 L925.30,983.91 L926.30,983.91 L927.30,983.92 L928.30,983.92 L929.30,983.92 L930.30,983.93 L931.30,983.93 L932.30,983.93 L933.30,983.94 L934.30,983.94 L935.30,983.94 L936.30,983.95 L937.30,983.95 L938.30,983.95 L939.30,983.96 L940.30,983.96 L941.30,983.96 L942.30,983.97 L943.30,983.97 L944.30,983.97 L945.30,983.98 L946.30,983.98 L947.30,983.98 L947.30,983.98 M972.80,984.05 L973.80,984.05 L974.80,984.05 L975.80,984.06 L976.80,984.06 L977.80,984.06 L978.80,984.06 L979.80,984.07 L980.80,984.07 L981.80,984.07 L982.80,984.07 L983.80,984.07 L984.80,984.08 L985.80,984.08 L986.80,984.08 L987.80,984.08 L988.80,984.08 L989.80,984.09 L990.80,984.09 L991.80,984.09 L992.80,984.09 L993.80,984.09 L994.80,984.10 L995.80,984.10 L996.80,984.10 L997.80,984.10 L997.80,984.10 M1023.30,984.14 L1024.30,984.15 L1025.30,984.15 L1026.30,984.15 L1027.30,984.15 L1028.30,984.15 L1029.30,984.15 L1030.30,984.15 L1031.30,984.16 L1032.30,984.16 L1033.30,984.16 L1034.30,984.16 L1035.30,984.16 L1036.30,984.16 L1037.30,984.16 L1038.30,984.16 L1039.30,984.17 L1040.30,984.17 L1041.30,984.17 L1042.30,984.17 L1043.30,984.17 L1044.30,984.17 L1045.30,984.17 L1046.30,984.17 L1047.30,984.18 L1048.30,984.18 L1048.30,984.18 M1073.80,984.20 L1074.80,984.20 L1075.80,984.20 L1076.80,984.21 L1077.80,984.21 L1078.80,984.21 L1079.80,984.21 L1080.80,984.21 L1081.80,984.21 L1082.80,984.21 L1083.80,984.21 L1084.80,984.21 L1085.80,984.21 L1086.80,984.21 L1087.80,984.21 L1088.80,984.22 L1089.80,984.22 L1090.80,984.22 L1091.80,984.22 L1092.80,984.22 L1093.80,984.22 L1094.80,984.22 L1095.80,984.22 L1096.80,984.22 L1097.80,984.22 L1098.80,984.22 L1098.80,984.22 M1124.30,984.24 L1125.30,984.24 L1126.30,984.24 L1127.30,984.24 L1128.30,984.24 L1129.30,984.24 L1130.30,984.24 L1131.30,984.24 L1132.30,984.24 L1133.30,984.24 L1134.30,984.25 L1135.30,984.25 L1136.30,984.25 L1137.30,984.25 L1138.30,984.25 L1139.30,984.25 L1140.30,984.25 L1141.30,984.25 L1142.30,984.25 L1143.30,984.25 L1144.30,984.25 L1145.30,984.25 L1146.30,984.25 L1147.30,984.25 L1148.30,984.25 L1149.30,984.25 L1149.30,984.25" fill="none" stroke="#ec1c24" stroke-width="6.0" stroke-linecap="round"/>
<circle cx="943.3" cy="804.6" r="10.4" fill="none" stroke="#111" stroke-width="1.9"/>
<line x1="919.5" y1="857.7" x2="967.4" y2="857.7" stroke="#e91a30" stroke-width="2.5" stroke-linecap="round"/>
<text x="1003.5" y="815.1" font-size="24.8" fill="#1a1a1a">Autocorrelation</text>
<text x="1001.8" y="862" font-size="24.8" fill="#1a1a1a">Fitted line</text>
</svg></body></html>
